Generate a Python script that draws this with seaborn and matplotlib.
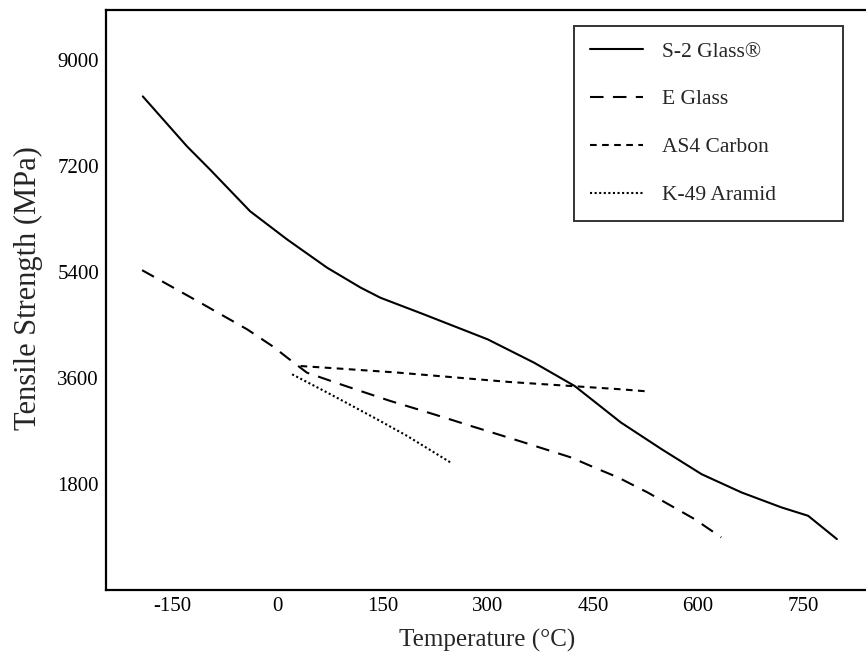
import matplotlib
matplotlib.use("Agg")
import matplotlib.pyplot as plt
import seaborn as sns
import pandas as pd

# values (temperature in C, strength in MPa)
s2_temp = [-192, -129, -96, -39, 14, 71, 119, 147, 209, 300, 366, 424, 455, 490, 548, 605, 662, 719, 757, 798]
s2_strength = [8374, 7527, 7132, 6426, 5946, 5467, 5128, 4958, 4676, 4252, 3857, 3461, 3170, 2841, 2389, 1965, 1655, 1401, 1259, 864]

e_temp = [-193, -110, -43, -5, 14, 42, 90, 120, 161, 200, 238, 276, 314, 352, 419, 452, 486, 528, 595, 633]
e_strength = [5426, 4874, 4421, 4120, 3942, 3688, 3490, 3370, 3207, 3066, 2926, 2783, 2643, 2502, 2248, 2078, 1909, 1655, 1203, 893]

as4_temp = [33, 90, 170, 250, 330, 420, 490, 527]
as4_strength = [3800, 3755, 3690, 3610, 3530, 3460, 3405, 3370]

k49_temp = [21, 71, 104, 142, 185, 247]
k49_strength = [3659, 3350, 3140, 2897, 2614, 2163]

labels = ["S-2 Glass®", "E Glass", "AS4 Carbon", "K-49 Aramid"]
x_ticks = [-150, 0, 150, 300, 450, 600, 750]
y_ticks = [1800, 3600, 5400, 7200, 9000]

sns.set_style("white")
plt.rcParams['font.family'] = ['Liberation Serif', 'DejaVu Serif']
plt.rcParams['axes.unicode_minus'] = False

fig = plt.figure(figsize=(8.66, 6.61), dpi=100)
ax = fig.add_axes([106 / 866, 1 - 590 / 661, 1 - 106 / 866 + 0.002, (590 - 10) / 661])

series = [
    (s2_temp, s2_strength, "-"),
    (e_temp, e_strength, (0, (6.5, 4.5))),
    (as4_temp, as4_strength, (0, (3.2, 2.6))),
    (k49_temp, k49_strength, (0, (1.0, 1.2))),
]
for (t, s, ls), lab in zip(series, labels):
    df = pd.DataFrame({"Temperature": t, "Strength": s})
    sns.lineplot(data=df, x="Temperature", y="Strength", ax=ax, color="black",
                 linewidth=1.5, linestyle=ls, label=lab)

ax.set_xlim(-244.5, 842)
ax.set_ylim(0, 9840)
ax.set_xticks(x_ticks)
ax.set_yticks(y_ticks)
ax.tick_params(direction="in", length=10, width=1.5, labelsize=15, pad=5, colors="black")
ax.set_xlabel("Temperature (°C)", fontsize=18, labelpad=9)
ax.set_ylabel("Tensile Strength (MPa)", fontsize=22)
ax.yaxis.set_label_coords(-0.083, 0.52)

for side in ["left", "bottom", "top"]:
    ax.spines[side].set_color("black")
    ax.spines[side].set_linewidth(1.6)
ax.spines["right"].set_visible(False)

# legend box is wider than its contents in the reference
leg = ax.legend(loc="upper left", mode="expand",
                bbox_to_anchor=(574 / 866, 0, 269 / 866, 1 - 26 / 661),
                bbox_transform=fig.transFigure, borderaxespad=0, fontsize=15.5,
                handlelength=2.5, labelspacing=1.29, borderpad=0.72, handletextpad=0.85,
                frameon=True, fancybox=False, edgecolor="black")
leg.get_frame().set_linewidth(1.4)

fig.savefig("out.png", dpi=100)
